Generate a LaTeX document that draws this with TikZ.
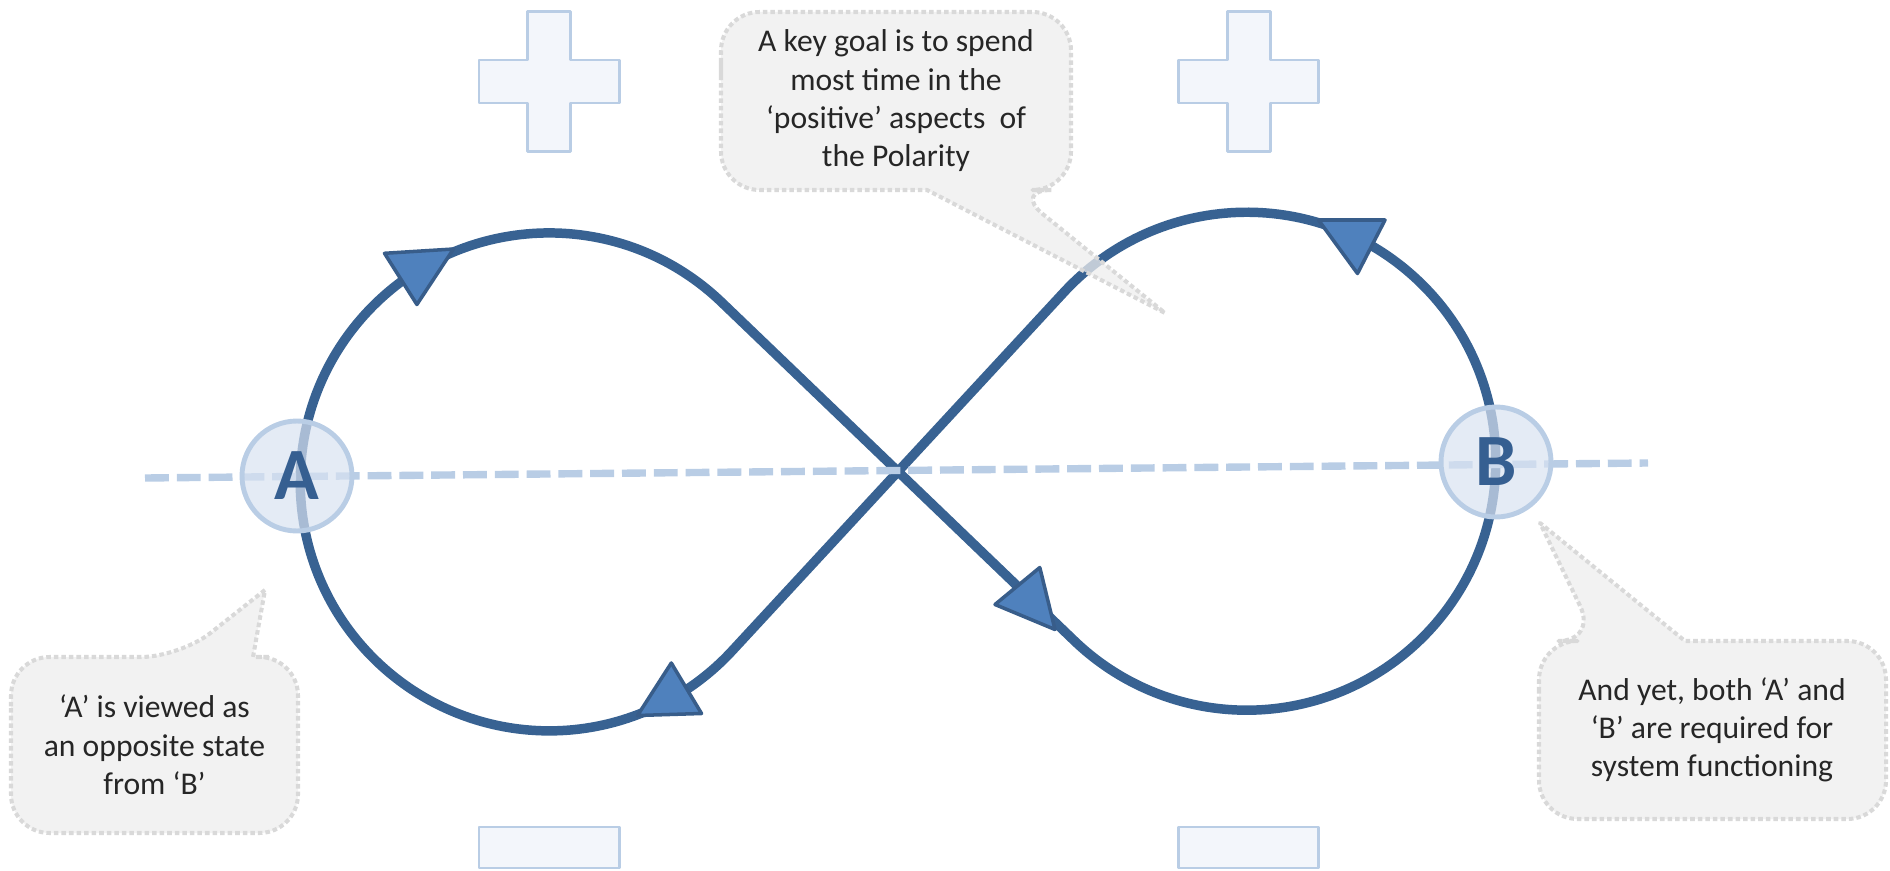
\documentclass[tikz,border=0pt]{standalone}
\usepackage{fontspec}
\setmainfont{Carlito}
\definecolor{loopblue}{HTML}{386292}
\definecolor{trifill}{HTML}{4F81BD}
\definecolor{triedge}{HTML}{385D8A}
\definecolor{paleblue}{HTML}{B9CDE5}
\definecolor{polefill}{HTML}{D8E2F1}
\definecolor{signfill}{HTML}{F3F6FB}
\definecolor{notefill}{HTML}{EEEEEE}
\definecolor{noteedge}{HTML}{D9D9D9}
\definecolor{inkgray}{HTML}{262626}
\definecolor{poleink}{HTML}{365F91}
\begin{document}
\begin{tikzpicture}[x=0.02cm,y=0.02cm,line join=round,
		curve/.style={draw=loopblue,line width=5.4pt},
		tri/.style={fill=trifill,draw=triedge,line width=2pt},
		sign/.style={fill=signfill,draw=paleblue,line width=1.7pt},
		dashline/.style={draw=paleblue,line width=4.2pt,dash pattern=on 13.6pt off 4.5pt},
		pole/.style={circle,minimum size=2.2cm,inner sep=0pt,draw=paleblue,line width=2.8pt,fill=polefill,fill opacity=0.7,text opacity=1,text=poleink,font=\bfseries\fontsize{42}{42}\selectfont},
		note/.style={fill=notefill,fill opacity=0.75,draw=noteedge,line width=2.3pt,dash pattern=on 2.6pt off 1.7pt},
		notetext/.style={align=center,text=inkgray,font=\fontsize{18}{21.8}\selectfont}]
	\useasboundingbox (0,0) rectangle (1890,870);
	\def\rad{249}
	\def\cy{788.5}
	%Dấu cộng, dấu trừ
	\foreach \cx in {549,1248.5}{
		\draw[sign] (\cx-21.5,\cy+70) -- (\cx+21.5,\cy+70) -- (\cx+21.5,\cy+21.5) -- (\cx+70,\cy+21.5) -- (\cx+70,\cy-21.5) -- (\cx+21.5,\cy-21.5) -- (\cx+21.5,\cy-70) -- (\cx-21.5,\cy-70) -- (\cx-21.5,\cy-21.5) -- (\cx-70,\cy-21.5) -- (\cx-70,\cy+21.5) -- (\cx-21.5,\cy+21.5) -- cycle;
		\draw[sign] (\cx-70,2) rectangle (\cx+70,43);
	}
	%Đường số 8
	\draw[curve,shift={(898,398.5)},rotate=1.7] (0,0) -- (171.3,174.4) arc[start angle=135.52,end angle=-135.52,radius=\rad] -- (0,0) -- (-171.3,174.4) arc[start angle=44.48,end angle=315.52,radius=\rad] -- cycle;
	%Các tam giác trên đường
	\draw[tri] (384.5,616.7) -- (453.5,621) -- (416.9,565.5) -- cycle;
	\draw[tri] (671.3,207) -- (701.5,156.5) -- (637.5,154.5) -- cycle;
	\draw[tri] (1039.8,302.5) -- (1055,240.5) -- (995,265.5) -- cycle;
	\draw[tri] (1318.5,650) -- (1385,650) -- (1357.5,596.5) -- cycle;
	%Trục nét đứt và hai cực
	\coordinate (axl) at (145,392);
	\coordinate (axr) at (1648,407);
	\draw[dashline] (axl) -- (axr);
	\node[pole] (A) at (297,394) {A};
	\node[pole] (B) at (1496,408) {B};
	%Các lời chú thích
	\draw[note] (721,769) [rounded corners=22] |- (1071,858) |- (1013,680) [sharp corners] -- (1165,557) -- (927,680) -- (900,680) [rounded corners=22] -| (721,769) -- cycle;
	\draw[note] (11,125) [rounded corners=22] |- (180,213) [sharp corners] -- (265,280) -- (253,213) -- (270,213) [rounded corners=22] -| (298,125) |- (11,37) -- cycle;
	\draw[note] (1539,140) [rounded corners=22] |- (1597,229) [sharp corners] -- (1540,347) -- (1685,229) -- (1700,229) [rounded corners=22] -| (1886,140) |- (1539,51) -- cycle;
	\node[notetext] (goal) at (896,769) {A key goal is to spend\\most time in the\\‘positive’ aspects~ of\\the Polarity};
	\node[notetext] (anote) at (154.5,125) {‘A’ is viewed as\\an opposite state\\from ‘B’};
	\node[notetext] (bnote) at (1712,140) {And yet, both ‘A’ and\\‘B’ are required for\\system functioning};
\end{tikzpicture}
\end{document}
